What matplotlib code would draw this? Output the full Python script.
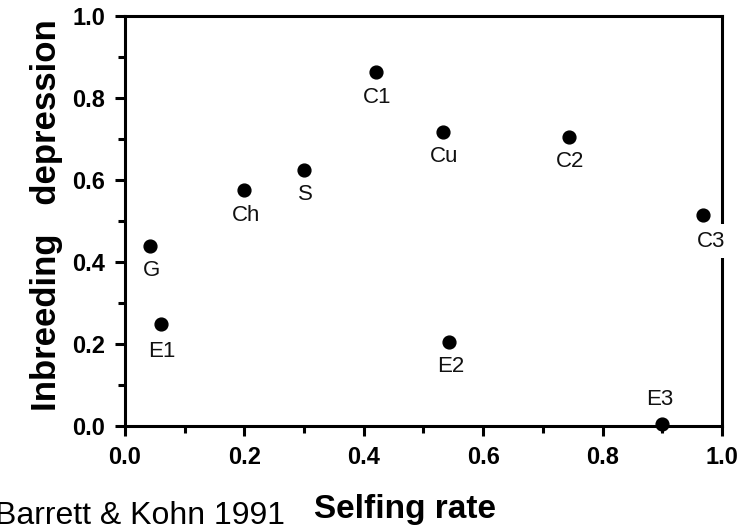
"""
Inbreeding depression against selfing rate (Barrett & Kohn 1991).
"""

import matplotlib.pyplot as plt
from matplotlib.ticker import MultipleLocator

plt.rcParams["font.family"] = ["Liberation Sans", "DejaVu Sans"]

# populations
labels = ["G", "E1", "Ch", "S", "C1", "Cu", "C2", "C3", "E2", "E3"]
selfing = [0.042, 0.06, 0.20, 0.30, 0.42, 0.533, 0.744, 0.968, 0.543, 0.90]
depression = [0.44, 0.25, 0.575, 0.625, 0.862, 0.718, 0.705, 0.515, 0.205, 0.005]

# label placement (points, relative to the dot); default is just below
offsets = {"E1": (1, -20), "C3": (6, -19), "E3": (-2, 18)}

fig = plt.figure(figsize=(7.52, 5.28), dpi=100)
ax = fig.add_axes([0.166, 0.193, 0.794, 0.777])

ax.scatter(selfing, depression, s=85, color="black", zorder=3, clip_on=False)

for name, x, y in zip(labels, selfing, depression):
    dx, dy = offsets.get(name, (1, -18))
    ax.annotate(name, (x, y), xytext=(dx, dy), textcoords="offset points",
                ha="center", va="center", fontsize=16, color="#111",
                zorder=4,
                bbox=dict(boxstyle="square,pad=0.3", fc="white", ec="none")
                if name == "C3" else None)

ax.set_xlim(0, 1)
ax.set_ylim(0, 1)
ax.xaxis.set_major_locator(MultipleLocator(0.2))
ax.xaxis.set_minor_locator(MultipleLocator(0.1))
ax.yaxis.set_major_locator(MultipleLocator(0.2))
ax.yaxis.set_minor_locator(MultipleLocator(0.1))
ax.xaxis.set_major_formatter(lambda v, _: f"{v:.1f}")
ax.yaxis.set_major_formatter(lambda v, _: f"{v:.1f}")

for sp in ax.spines.values():
    sp.set_linewidth(2.2)
    sp.set_zorder(2)
ax.tick_params(which="major", direction="out", length=7, width=2.2,
               labelsize=17, pad=7)
ax.tick_params(which="minor", direction="out", length=5, width=2.2)
for lab in ax.get_xticklabels() + ax.get_yticklabels():
    lab.set_fontweight("bold")

ax.set_xlabel("Selfing rate", fontsize=24, fontweight="bold")
ax.set_ylabel("Inbreeding   depression", fontsize=25, fontweight="bold")
ax.xaxis.set_label_coords(0.47, -0.165)
ax.yaxis.set_label_coords(-0.104, 0.515)

fig.text(-0.006, 0.007, "Barrett & Kohn 1991", fontsize=23, ha="left",
         va="baseline")

fig.savefig("out.png", dpi=100, facecolor="white")
